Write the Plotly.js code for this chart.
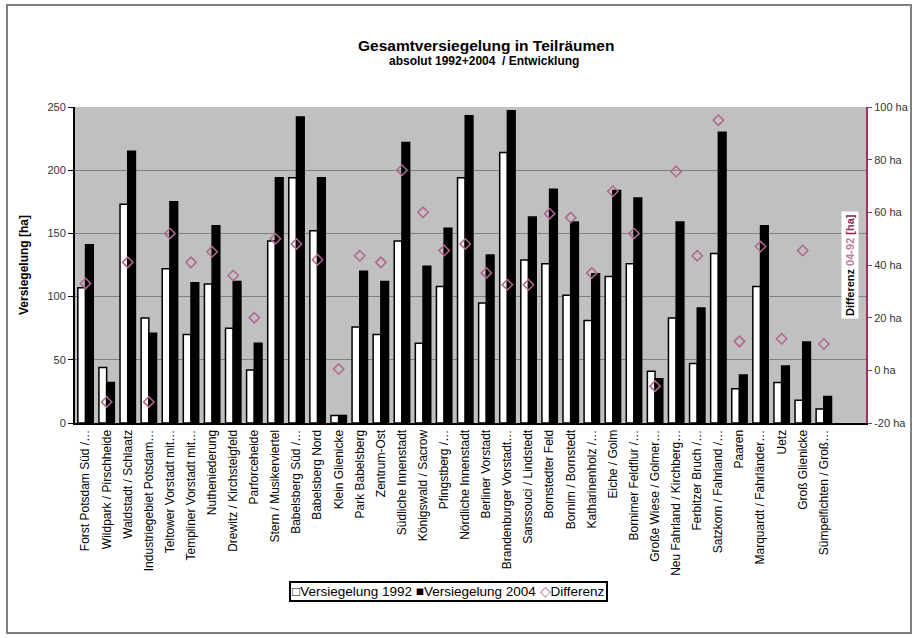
<!DOCTYPE html>
<html>
<head>
<meta charset="utf-8">
<script src="https://cdn.plot.ly/plotly-3.0.1.min.js"></script>
<style>
  html, body { margin: 0; padding: 0; background: #ffffff; }
  #chart { width: 918px; height: 638px; }
</style>
</head>
<body>
<div id="chart"></div>
<script>
const categories = [
  "Forst Potsdam Süd /…", "Wildpark / Pirschheide", "Waldstadt / Schlaatz", "Industriegebiet Potsdam…",
  "Teltower Vorstadt mit…", "Templiner Vorstadt mit…", "Nutheniederung", "Drewitz / Kirchsteigfeld",
  "Parforceheide", "Stern / Musikerviertel", "Babelsberg Süd /…", "Babelsberg Nord",
  "Klein Glienicke", "Park Babelsberg", "Zentrum-Ost", "Südliche Innenstadt",
  "Königswald / Sacrow", "Pfingstberg /…", "Nördliche Innenstadt", "Berliner Vorstadt",
  "Brandenburger Vorstadt…", "Sanssouci / Lindstedt", "Bornstedter Feld", "Bornim / Bornstedt",
  "Katharinenholz /…", "Eiche / Golm", "Bornimer Feldflur /…", "Große Wiese / Golmer…",
  "Neu Fahrland / Kirchberg…", "Ferbitzer Bruch /…", "Satzkorn / Fahrland /…", "Paaren",
  "Marquardt / Fahrländer…", "Uetz", "Groß Glienicke", "Sümpelfichten / Groß…"
];
const versiegelung1992 = [
  107, 44, 173, 83, 122, 70, 110, 75, 42, 144, 194, 152,
  6, 76, 70, 144, 63, 108, 194, 95, 214, 129, 126, 101,
  81, 116, 126, 41, 83, 47, 134, 27, 108, 32, 18, 11
];
const versiegelung2004 = [
  141, 32, 215, 71, 175, 111, 156, 112, 63, 194, 242, 194,
  6, 120, 112, 222, 124, 154, 243, 133, 247, 163, 185, 159,
  118, 184, 178, 35, 159, 91, 230, 38, 156, 45, 64, 21
];
const differenz = [
  33, -12, 41, -12, 52, 41, 45, 36, 20, 50, 48, 42,
  0.5, 43.5, 41, 76, 60, 45.5, 48, 37, 32.5, 32.5, 59.5, 58,
  37, 68, 52, -6, 75.5, 43.5, 95, 11, 47, 12, 45.5, 10
];
const leftTicks = [0, 50, 100, 150, 200, 250];
const rightTicks = [-20, 0, 20, 40, 60, 80, 100];
const rightTickText = rightTicks.map(v => v + " ha");
const seriesNames = ["Versiegelung 1992", "Versiegelung 2004", "Differenz"];

const idx = categories.map((c, i) => i);
const boundaries = categories.concat([""]).map((c, i) => i - 0.5);

const diffColor = "#b0668e";

const traces = [
  {
    type: "bar", name: seriesNames[0], x: idx, y: versiegelung1992,
    marker: { color: "#ffffff", line: { color: "#000000", width: 1.5 } },
    xaxis: "x", yaxis: "y"
  },
  {
    type: "bar", name: seriesNames[1], x: idx, y: versiegelung2004,
    marker: { color: "#000000", line: { color: "#000000", width: 1.5 } },
    xaxis: "x", yaxis: "y"
  },
  {
    type: "scatter", mode: "markers", name: seriesNames[2], x: idx, y: differenz,
    marker: { symbol: "diamond-open", size: 8, color: diffColor, line: { width: 1.5, color: diffColor } },
    xaxis: "x", yaxis: "y2"
  }
];

const L = 75, R = 866, T = 107, B = 423;
const px = v => (v - L) / (R - L);
const py = v => (B - v) / (B - T);

const legendText =
  "<b>□</b>" + seriesNames[0] + " " +
  "■" + seriesNames[1] + " " +
  "<span style='color:" + diffColor + "'>◇</span>" + seriesNames[2];

const layout = {
  width: 918, height: 638,
  margin: { l: L, r: 918 - R, t: T, b: 638 - B },
  paper_bgcolor: "#ffffff",
  plot_bgcolor: "#c0c0c0",
  font: { family: "Liberation Sans, Arial, sans-serif", color: "#000000", size: 11 },
  barmode: "group",
  bargap: 0.27,
  bargroupgap: 0,
  showlegend: false,
  xaxis: {
    range: [-0.5, 37.0], tickmode: "array", tickvals: idx, ticktext: categories,
    tickangle: -90, ticks: "", showgrid: false, zeroline: false,
    showline: true, linecolor: "#000000", linewidth: 2,
    tickfont: { size: 12, color: "#000000" }, fixedrange: true
  },
  xaxis2: {
    overlaying: "x", anchor: "y", side: "bottom",
    range: [-0.5, 37.0], tickmode: "array", tickvals: boundaries,
    showticklabels: false, ticks: "outside", ticklen: 5, tickwidth: 1.5, tickcolor: "#000000",
    showgrid: false, zeroline: false, showline: false
  },
  yaxis: {
    range: [0, 250], tickmode: "array", tickvals: leftTicks,
    showgrid: true, gridcolor: "#808080", gridwidth: 1, zeroline: false,
    showline: true, linecolor: "#000000", linewidth: 2,
    ticks: "outside", ticklen: 5, tickcolor: "#000000",
    tickfont: { size: 11, color: "#333333" }
  },
  yaxis2: {
    range: [-20, 100], tickmode: "array", tickvals: rightTicks, ticktext: rightTickText,
    overlaying: "y", side: "right", anchor: "x",
    showgrid: false, zeroline: false,
    showline: true, linecolor: "#993366", linewidth: 2,
    ticks: "outside", ticklen: 4, tickcolor: "#993366",
    tickfont: { size: 11, color: "#333333" }
  },
  annotations: [
    {
      text: "<b>Gesamtversiegelung in Teilräumen</b>", xref: "paper", yref: "paper",
      x: px(486), y: py(45), xanchor: "center", yanchor: "middle", showarrow: false,
      font: { size: 15.5, color: "#000000" }
    },
    {
      text: "<b>absolut 1992+2004  / Entwicklung</b>", xref: "paper", yref: "paper",
      x: px(484), y: py(61), xanchor: "center", yanchor: "middle", showarrow: false,
      font: { size: 12, color: "#000000" }
    },
    {
      text: "<b>Versiegelung [ha]</b>", xref: "paper", yref: "paper",
      x: px(24), y: py(265), xanchor: "center", yanchor: "middle", showarrow: false,
      textangle: -90, font: { size: 12, color: "#000000" }
    },
    {
      text: "<b>Differenz <span style='color:#c07aa0'>04-92</span> <span style='color:#8b2a55'>[ha]</span></b>",
      xref: "paper", yref: "paper",
      x: px(850), y: py(265), xanchor: "center", yanchor: "middle", showarrow: false,
      textangle: -90, bgcolor: "#ffffff", borderpad: 2,
      font: { size: 11, color: "#000000" }
    },
    {
      text: legendText, xref: "paper", yref: "paper",
      x: px(448), y: py(591), xanchor: "center", yanchor: "middle", showarrow: false,
      bgcolor: "#ffffff", bordercolor: "#000000", borderwidth: 2, borderpad: 1,
      font: { size: 13.5, color: "#000000", family: "Liberation Sans, Arial, sans-serif" }
    }
  ],
  shapes: [
    {
      type: "rect", xref: "paper", yref: "paper", layer: "below",
      x0: px(7), x1: px(911), y0: py(5), y1: py(633),
      line: { color: "#808080", width: 2 }, fillcolor: "rgba(0,0,0,0)"
    }
  ]
};

Plotly.newPlot("chart", traces, layout, { displayModeBar: false, staticPlot: true });
</script>
</body>
</html>
